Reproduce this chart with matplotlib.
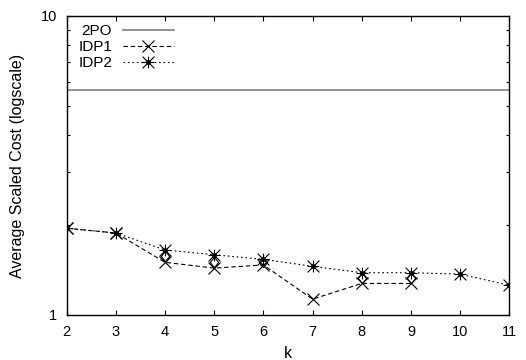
#!/usr/bin/env python3

import matplotlib
matplotlib.use("Agg")
import matplotlib.pyplot as plt
from matplotlib.path import Path
from matplotlib.ticker import LogLocator, FixedLocator, NullFormatter
from matplotlib.legend_handler import HandlerTuple

# values
k_values = [2, 3, 4, 5, 6, 7, 8, 9, 10, 11]
two_po_cost = 5.65

idp1_k = [2, 3, 4, 5, 6, 7, 8, 9]
idp1_cost = [1.95, 1.88, 1.50, 1.435, 1.47, 1.13, 1.275, 1.275]

idp2_k = [2, 3, 4, 5, 6, 7, 8, 9, 10, 11]
idp2_cost = [1.95, 1.88, 1.65, 1.59, 1.535, 1.455, 1.385, 1.385, 1.37, 1.257]

# extra points without a key entry
extra_k = [4, 5, 6, 8, 9]
extra_cost = [1.575, 1.507, 1.50, 1.327, 1.327]


def star_marker():
    # gnuplot-like star: plus and cross on top of each other
    verts = [(-1, 0), (1, 0), (0, -1), (0, 1),
             (-1, -1), (1, 1), (-1, 1), (1, -1)]
    codes = [Path.MOVETO, Path.LINETO] * 4
    return Path(verts, codes)


def diamond_marker():
    verts = [(0, 1), (0.8, 0), (0, -1), (-0.8, 0), (0, 1)]
    codes = [Path.MOVETO, Path.LINETO, Path.LINETO, Path.LINETO, Path.CLOSEPOLY]
    return Path(verts, codes)


def main():
    plt.rcParams["font.family"] = ["Liberation Sans", "DejaVu Sans"]
    plt.rcParams["font.size"] = 11

    fig = plt.figure(figsize=(5.26, 3.6), dpi=100)
    ax = fig.add_axes([0.1268, 0.125, 0.8415, 0.8306])

    line_2po = ax.axhline(two_po_cost, color="#808080", lw=1.2)

    line_idp1, = ax.plot(idp1_k, idp1_cost, color="black", lw=0.8,
                         linestyle=(0, (4, 2.5)), marker="x", ms=8.5, mew=0.8)

    line_idp2, = ax.plot(idp2_k, idp2_cost, color="black", lw=0.8,
                         linestyle=(0, (1.5, 2.5)), marker=star_marker(),
                         ms=8.5, mew=0.8, mfc="none")
    dots_idp2, = ax.plot(idp2_k, idp2_cost, linestyle="none", marker="o",
                         ms=2.5, color="black")

    ax.plot(extra_k, extra_cost, linestyle="none", marker=diamond_marker(),
            ms=7.5, mew=0.8, mfc="none", color="black")

    ax.set_yscale("log")
    ax.set_ylim(1, 10)
    ax.set_xlim(2, 11)
    ax.set_xticks(k_values)
    ax.yaxis.set_major_locator(FixedLocator([1, 10]))
    ax.set_yticklabels(["1", "10"])
    ax.yaxis.set_minor_locator(LogLocator(base=10, subs=range(2, 10)))
    ax.yaxis.set_minor_formatter(NullFormatter())

    ax.tick_params(which="both", direction="in", top=True, right=True,
                   width=0.8, labelsize=10.5)
    ax.tick_params(which="major", length=3.5)
    ax.tick_params(which="minor", length=2)
    ax.tick_params(axis="x", pad=7)
    ax.tick_params(axis="y", pad=7)
    for sp in ax.spines.values():
        sp.set_linewidth(1.0)

    ax.set_xlabel("k", fontsize=11.5)
    ax.set_ylabel("Average Scaled Cost (logscale)", fontsize=11.5)
    ax.xaxis.label.set_verticalalignment("baseline")
    ax.xaxis.set_label_coords(0.5, -0.143)
    ax.yaxis.set_label_coords(-0.095, 0.5)

    leg = ax.legend([line_2po, line_idp1, (line_idp2, dots_idp2)],
                    ["2PO", "IDP1", "IDP2"],
                    handler_map={tuple: HandlerTuple(ndivide=1)},
                    loc="upper left", bbox_to_anchor=(0.026, 0.972),
                    frameon=False, markerfirst=False, borderpad=0,
                    borderaxespad=0, handlelength=3.33, handletextpad=0.7,
                    labelspacing=0.12, numpoints=1, fontsize=11)

    fig.savefig("out.png", dpi=100)
    plt.close(fig)


if __name__ == "__main__":
    main()
